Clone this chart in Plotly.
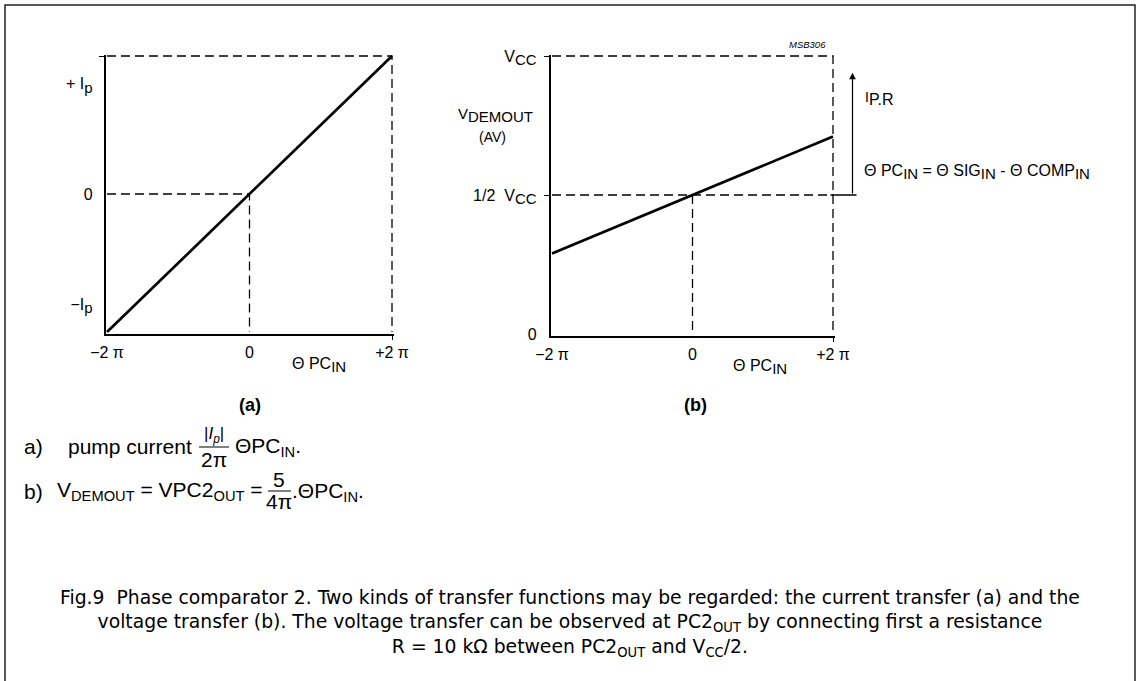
import math
import plotly.graph_objects as go

W, H = 1141, 681
TWO_PI = 2 * math.pi

# ---------------- data ----------------
phase_ticks = [-TWO_PI, 0.0, TWO_PI]
phase_labels = ["−2 π", "0", "+2 π"]

# (a) current transfer, in units of I_p
pump_x = [-TWO_PI, 0.0, TWO_PI]
pump_y = [-1.0, 0.0, 1.0]
pump_ticks = [-0.8, 0.0, 0.8]

# (b) voltage transfer, in units of V_CC
vout_x = [-TWO_PI, 0.0, TWO_PI]
vout_y = [0.29, 0.50, 0.71]
vout_ticks = [0.0, 0.5, 1.0]
arrow_top = 0.94  # top of I_P.R arrow, units of V_CC

FONT = "Liberation Sans, Arial, Helvetica, sans-serif"
CAPFONT = "DejaVu Sans, Liberation Sans, Arial, sans-serif"


def sub(t, size=15):
    return "<sub><span style='font-size:%dpx'>%s</span></sub>" % (size, t)


pump_labels = ["−I" + sub("p"), "0", "+ I" + sub("p")]
vout_labels = ["0", "1/2  V" + sub("CC"), "V" + sub("CC")]


def px(x):
    return x / W


def py(y):
    return 1 - y / H


def panel(px0, px1, ptop, pbot, xr, yr, pad=1.5):
    sx = (xr[1] - xr[0]) / (px1 - px0)
    sy = (yr[1] - yr[0]) / (pbot - ptop)
    xdom = [(px0 - pad) / W, (px1 + pad) / W]
    ydom = [1 - (pbot + pad) / H, 1 - (ptop - pad) / H]
    xrange = [xr[0] - pad * sx, xr[1] + pad * sx]
    yrange = [yr[0] - pad * sy, yr[1] + pad * sy]
    return xdom, ydom, xrange, yrange


xa_dom, ya_dom, xa_rng, ya_rng = panel(107, 392, 56, 332, (pump_x[0], pump_x[-1]), (pump_y[0], pump_y[-1]))
xb_dom, yb_dom, xb_rng, yb_rng = panel(552, 833, 56, 334, (vout_x[0], vout_x[-1]), (vout_ticks[0], vout_ticks[-1]))

fig = go.Figure()

DASH = "9px,5px"
# --- panel (a) dashed guides
ax0, ax1 = pump_x[0], pump_x[-1]
ay0, ay1 = pump_y[0], pump_y[-1]
fig.add_trace(go.Scatter(
    x=[ax0, ax1, ax1, None, ax0, pump_x[1], pump_x[1]],
    y=[ay1, ay1, ay0, None, pump_y[1], pump_y[1], ay0],
    mode="lines", line=dict(color="black", width=1.3, dash=DASH),
    xaxis="x", yaxis="y", hoverinfo="skip", showlegend=False))
fig.add_trace(go.Scatter(x=pump_x, y=pump_y, mode="lines",
                         line=dict(color="black", width=2.7),
                         xaxis="x", yaxis="y", showlegend=False))

# --- panel (b) dashed guides
bx0, bx1 = vout_x[0], vout_x[-1]
vmid, vtop, vbot = vout_ticks[1], vout_ticks[-1], vout_ticks[0]
fig.add_trace(go.Scatter(
    x=[bx0, bx1, bx1, None, bx0, bx1, None, vout_x[1], vout_x[1]],
    y=[vtop, vtop, vbot, None, vmid, vmid, None, vmid, vbot],
    mode="lines", line=dict(color="black", width=1.3, dash=DASH),
    xaxis="x2", yaxis="y2", hoverinfo="skip", showlegend=False))
fig.add_trace(go.Scatter(x=vout_x, y=vout_y, mode="lines",
                         line=dict(color="black", width=2.7),
                         xaxis="x2", yaxis="y2", showlegend=False))

axis_common = dict(showgrid=False, zeroline=False, showline=True, linecolor="black",
                   linewidth=1.5, ticks="",
                   tickfont=dict(family=FONT, size=16, color="black"),
                   fixedrange=True, tickmode="array", automargin=False)


def minor(vals):
    return dict(tickmode="array", tickvals=vals, ticks="outside", ticklen=5,
                tickcolor="black", tickwidth=1.3, showgrid=False)


fig.update_layout(
    width=W, height=H, margin=dict(l=0, r=0, t=0, b=0, autoexpand=False),
    paper_bgcolor="white", plot_bgcolor="rgba(0,0,0,0)",
    showlegend=False,
    xaxis=dict(domain=xa_dom, range=xa_rng, tickvals=phase_ticks, ticktext=phase_labels,
               anchor="y", ticklabelstandoff=4, minor=minor([phase_ticks[-1]]), **axis_common),
    yaxis=dict(domain=ya_dom, range=ya_rng, tickvals=pump_ticks, ticktext=pump_labels,
               anchor="x", ticklabelstandoff=8, minor=minor([pump_y[-1]]), **axis_common),
    xaxis2=dict(domain=xb_dom, range=xb_rng, tickvals=phase_ticks, ticktext=phase_labels,
                anchor="y2", ticklabelstandoff=4, minor=minor([phase_ticks[-1]]), **axis_common),
    yaxis2=dict(domain=yb_dom, range=yb_rng, tickvals=vout_ticks, ticktext=vout_labels,
                anchor="x2", ticklabelstandoff=9, minor=minor(vout_ticks[1:]), **axis_common),
)

shapes = []
# outer frame
shapes.append(dict(type="rect", xref="paper", yref="paper", x0=px(5), x1=px(1135),
                   y0=py(684), y1=py(5), line=dict(color="#222", width=1.5)))
# extension of 1/2 Vcc line to the arrow base
shapes.append(dict(type="line", xref="paper", yref="y2", x0=xb_dom[1] - px(4),
                   x1=xb_dom[1] + px(22), y0=vmid, y1=vmid,
                   line=dict(color="black", width=1.3)))
# fraction bars
shapes.append(dict(type="line", xref="paper", yref="paper", x0=px(199), x1=px(229),
                   y0=py(447), y1=py(447), line=dict(color="black", width=1)))
shapes.append(dict(type="line", xref="paper", yref="paper", x0=px(268), x1=px(291),
                   y0=py(491), y1=py(491), line=dict(color="black", width=1)))
fig.update_layout(shapes=shapes)

ann = []


def T(x, y, text, size=16, xanchor="center", yanchor="middle", family=FONT, **kw):
    f = dict(family=family, size=size, color="black")
    ann.append(dict(x=px(x), y=py(y), xref="paper", yref="paper", text=text,
                    showarrow=False, xanchor=xanchor, yanchor=yanchor, font=f, **kw))


# axis titles and labels inside panels
T(319, 365, "Θ PC" + sub("IN"))
T(760, 367, "Θ PC" + sub("IN"))
T(495, 115, "V" + sub("DEMOUT"), size=15)
T(492, 137, "(AV)", size=14)
T(250, 405, "<b>(a)</b>", size=18)
T(695, 405, "<b>(b)</b>", size=18)
T(828, 45, "<i>MSB306</i>", size=9.5, xanchor="right")
T(863, 98, "I" + sub("P.R", 16), size=14, xanchor="left")
T(862, 172, "Θ PC" + sub("IN") + " = Θ SIG" + sub("IN") + " - Θ COMP" + sub("IN"),
  size=16, xanchor="left")

# arrow I_P.R
px_per_unit = (yb_dom[1] - yb_dom[0]) * H / (yb_rng[1] - yb_rng[0])
ann.append(dict(x=xb_dom[1] + px(18), y=arrow_top, xref="paper", yref="y2",
                ax=0, ay=(arrow_top - vmid) * px_per_unit,
                axref="pixel", ayref="pixel", text="", showarrow=True,
                arrowhead=2, arrowsize=1.1, arrowwidth=1.2, arrowcolor="black"))

# formulas
FS = 21
T(22, 446, "a)", size=FS, xanchor="left")
T(194, 446, "pump current", size=FS, xanchor="right")
T(214, 435, "|<i>I<sub>p</sub></i>|", size=17)
T(214, 459, "2π", size=FS)
T(233, 447, "ΘPC<sub>IN</sub>.", size=FS, xanchor="left")

T(22, 491, "b)", size=FS, xanchor="left")
T(265, 491, "V<sub>DEMOUT</sub> = VPC2<sub>OUT</sub> =", size=FS, xanchor="right")
T(279, 479, "5", size=FS)
T(279, 502, "4π", size=FS)
T(290, 492, ".ΘPC<sub>IN</sub>.", size=FS, xanchor="left")

# caption
T(570, 623,
  "Fig.9  Phase comparator 2. Two kinds of transfer functions may be regarded: the current transfer (a) and the<br>"
  "voltage transfer (b). The voltage transfer can be observed at PC2<sub>OUT</sub> by connecting first a resistance<br>"
  "R = 10 kΩ between PC2<sub>OUT</sub> and V<sub>CC</sub>/2.",
  size=18.8, family=CAPFONT, align="center")

fig.update_layout(annotations=ann)
fig.write_html("out.html", config={"displayModeBar": False},
               post_script="document.body.style.margin='0';document.body.style.padding='0';")
